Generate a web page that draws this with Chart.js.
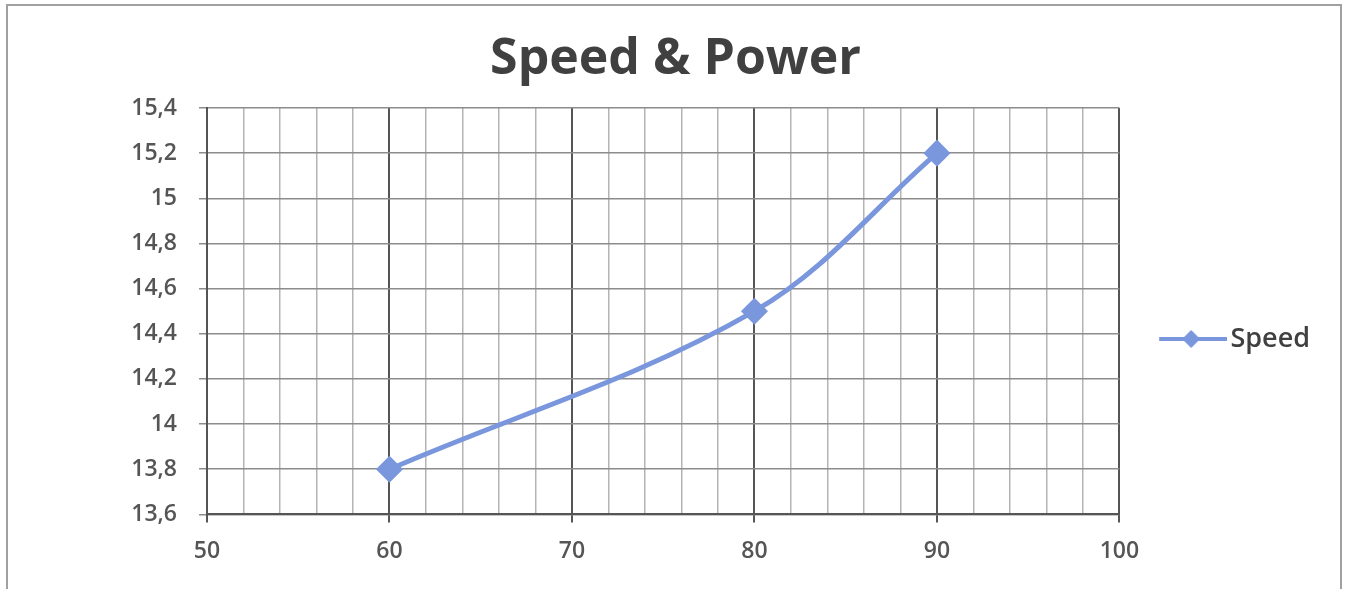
<!DOCTYPE html>
<html>
<head>
<meta charset="utf-8">
<script src="https://cdn.jsdelivr.net/npm/chart.js@4.4.1/dist/chart.umd.min.js"></script>
<style>
  html, body { margin: 0; padding: 0; background: #fff; }
  #wrap { position: relative; width: 1347px; height: 589px; }
  #frame { position: absolute; left: 6px; top: 4px; width: 1332px; height: 600px; border: 2px solid #a0a0a0; }
  canvas { position: absolute; left: 0; top: 0; }
</style>
</head>
<body>
<div id="wrap">
  <div id="frame"></div>
  <canvas id="speedChart" width="1347" height="589"></canvas>
</div>
<script>
// donnees
const powerValues = [60, 80, 90];
const speedValues = [13.8, 14.5, 15.2];
const seriesName = 'Speed';
const chartTitle = 'Speed & Power';

const lineColor = 'rgb(122, 150, 220)';

// petit dessin ligne + losange pour la legende
function legendIcon() {
    const c = document.createElement('canvas');
    c.width = 108; c.height = 22;
    const g = c.getContext('2d');
    g.strokeStyle = lineColor;
    g.lineWidth = 4;
    g.beginPath(); g.moveTo(40, 11); g.lineTo(108, 11); g.stroke();
    g.fillStyle = lineColor;
    g.beginPath(); g.moveTo(72, 2); g.lineTo(81, 11); g.lineTo(72, 20); g.lineTo(63, 11); g.closePath(); g.fill();
    return c;
}

function fmt(v) {
    return String(Number(v.toFixed(1))).replace('.', ',');
}

const ctx = document.getElementById('speedChart').getContext('2d');
const speedChart = new Chart(ctx, {
    type: 'scatter',
    data: {
        datasets: [{
            label: seriesName,
            data: powerValues.map((x, i) => ({ x: x, y: speedValues[i] })),
            showLine: true,
            borderColor: lineColor,
            backgroundColor: lineColor,
            borderWidth: 5,
            tension: 0.35,
            pointStyle: 'rectRot',
            pointRadius: 10,
            pointHoverRadius: 10
        }]
    },
    options: {
        responsive: false,
        animation: false,
        devicePixelRatio: 1,
        layout: { padding: { left: 31, right: 27, top: 30, bottom: 9 } },
        scales: {
            x: {
                type: 'linear',
                min: 50, max: 100,
                ticks: {
                    stepSize: 2,
                    autoSkip: false,
                    maxRotation: 0,
                    color: '#555',
                    font: { family: 'Open Sans', size: 23, weight: '600' },
                    padding: 15,
                    callback: v => (v % 10 === 0 ? String(v) : '')
                },
                grid: {
                    color: c => (c.tick && c.tick.value % 10 === 0 ? '#555' : '#b4b4b4'),
                    lineWidth: c => (c.tick && c.tick.value % 10 === 0 ? 2 : 1.5),
                    tickLength: 8,
                    tickColor: c => (c.tick && c.tick.value % 10 === 0 ? '#555' : 'rgba(0,0,0,0)')
                },
                border: { color: '#555', width: 2 }
            },
            y: {
                min: 13.6, max: 15.4,
                afterFit: scale => { scale.width = 176; },   // pour caler la zone a gauche
                ticks: {
                    stepSize: 0.2,
                    color: '#555',
                    font: { family: 'Open Sans', size: 23, weight: '600' },
                    padding: 22,
                    callback: v => fmt(v)
                },
                grid: { color: '#8c8c8c', lineWidth: 1.5, tickLength: 8 },
                border: { color: '#555', width: 2 }
            }
        },
        plugins: {
            title: {
                display: true,
                text: chartTitle,
                color: '#404040',
                font: { family: 'Open Sans', size: 50, weight: 'bold' },
                padding: { top: 0, bottom: 18 }
            },
            legend: {
                display: true,
                position: 'right',
                title: {
                    display: true,
                    text: ' ',
                    font: { size: 10 },
                    padding: { top: 56, bottom: 0 }
                },
                labels: {
                    color: '#404040',
                    font: { family: 'Open Sans', size: 27, weight: '600' },
                    usePointStyle: true,
                    pointStyleWidth: 87.5,
                    padding: 10,
                    generateLabels: chart => chart.data.datasets.map((ds, i) => ({
                        text: ds.label,
                        pointStyle: legendIcon(),
                        fillStyle: lineColor,
                        strokeStyle: lineColor,
                        lineWidth: 0,
                        datasetIndex: i,
                        fontColor: '#404040'
                    }))
                }
            },
            tooltip: { enabled: false }
        }
    }
});
</script>
</body>
</html>
